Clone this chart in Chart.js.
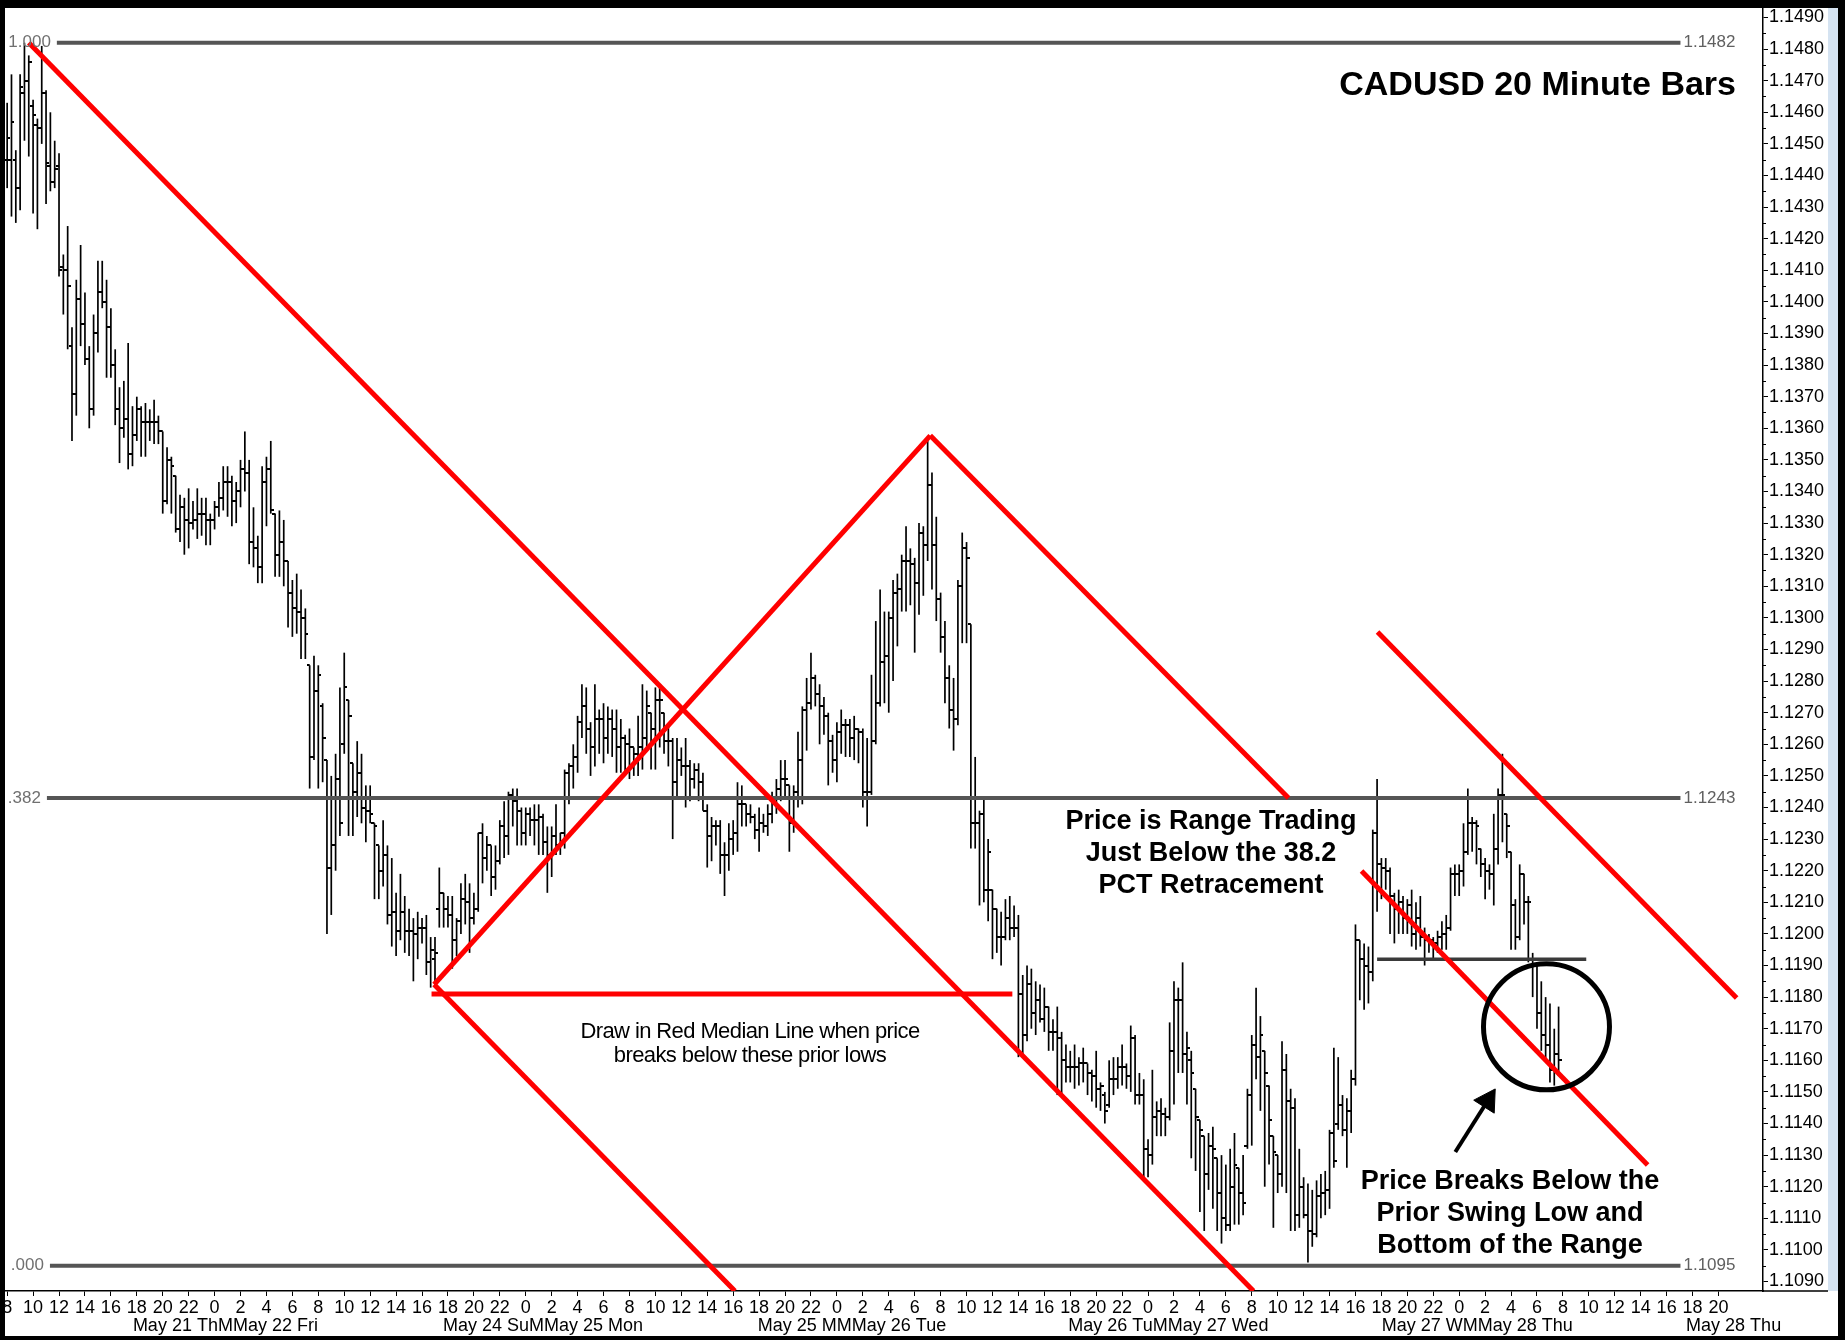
<!DOCTYPE html>
<html><head><meta charset="utf-8">
<script src="https://cdn.jsdelivr.net/npm/chart.js@4.4.0/dist/chart.umd.min.js"></script>
<style>html,body{margin:0;padding:0;background:#fff;}canvas{display:block;}</style>
</head><body>
<canvas id="c" width="1845" height="1340"></canvas>
<script>
// ---------- DATA (CADUSD 20-minute bars) ----------
const opens = [
1.1445,1.1445,1.1445,1.1436,1.1466,1.1470,1.1462,1.1456,1.1455,1.1466,
1.1443,1.1438,1.1443,1.1411,1.1410,1.1386,1.1371,1.1401,1.1393,1.1382,
1.1366,1.1390,1.1403,1.1400,1.1392,1.1380,1.1366,1.1360,1.1363,1.1352,
1.1358,1.1366,1.1362,1.1362,1.1362,1.1362,1.1359,1.1337,1.1350,1.1345,
1.1328,1.1335,1.1331,1.1330,1.1331,1.1333,1.1333,1.1331,1.1331,1.1335,
1.1338,1.1343,1.1343,1.1337,1.1340,1.1347,1.1346,1.1324,1.1322,1.1316,
1.1343,1.1347,1.1333,1.1320,1.1324,1.1318,1.1308,1.1303,1.1302,1.1300,
1.1285,1.1256,1.1277,1.1272,1.1255,1.1221,1.1228,1.1249,1.1260,1.1274,
1.1254,1.1245,1.1251,1.1240,1.1239,1.1235,1.1228,1.1220,1.1225,1.1206,
1.1207,1.1201,1.1207,1.1201,1.1201,1.1200,1.1202,1.1202,1.1191,1.1192,
1.1208,1.1213,1.1208,1.1206,1.1198,1.1204,1.1211,1.1210,1.1205,1.1208,
1.1232,1.1224,1.1228,1.1218,1.1223,1.1234,1.1231,1.1244,1.1242,1.1239,
1.1232,1.1238,1.1236,1.1236,1.1237,1.1229,1.1225,1.1231,1.1228,1.1232,
1.1251,1.1253,1.1256,1.1267,1.1272,1.1265,1.1259,1.1268,1.1268,1.1262,
1.1268,1.1265,1.1259,1.1262,1.1260,1.1259,1.1257,1.1259,1.1262,1.1270,
1.1265,1.1274,1.1270,1.1261,1.1261,1.1248,1.1255,1.1253,1.1253,1.1249,
1.1252,1.1248,1.1239,1.1231,1.1234,1.1234,1.1225,1.1225,1.1230,1.1232,
1.1241,1.1241,1.1238,1.1237,1.1233,1.1235,1.1234,1.1238,1.1243,1.1246,
1.1249,1.1247,1.1235,1.1245,1.1255,1.1271,1.1273,1.1281,1.1276,1.1272,
1.1269,1.1261,1.1255,1.1264,1.1266,1.1266,1.1262,1.1265,1.1264,1.1245,
1.1245,1.1261,1.1273,1.1286,1.1288,1.1300,1.1308,1.1309,1.1318,1.1318,
1.1317,1.1311,1.1327,1.1323,1.1342,1.1323,1.1306,1.1294,1.1281,1.1271,
1.1268,1.1310,1.1322,1.1298,1.1235,1.1235,1.1238,1.1214,1.1214,1.1208,
1.1199,1.1199,1.1205,1.1202,1.1202,1.1181,1.1168,1.1184,1.1175,1.1179,
1.1173,1.1177,1.1169,1.1169,1.1167,1.1160,1.1158,1.1158,1.1158,1.1159,
1.1159,1.1156,1.1155,1.1151,1.1149,1.1146,1.1154,1.1154,1.1158,1.1158,
1.1155,1.1167,1.1149,1.1149,1.1132,1.1130,1.1142,1.1144,1.1143,1.1142,
1.1163,1.1179,1.1179,1.1162,1.1160,1.1151,1.1141,1.1136,1.1124,1.1133,
1.1129,1.1118,1.1110,1.1108,1.1120,1.1126,1.1118,1.1133,1.1149,1.1165,
1.1161,1.1163,1.1152,1.1136,1.1130,1.1124,1.1157,1.1147,1.1145,1.1111,
1.1120,1.1111,1.1106,1.1105,1.1117,1.1118,1.1119,1.1137,1.1140,1.1146,
1.1138,1.1144,1.1154,1.1198,1.1192,1.1190,1.1188,1.1232,1.1222,1.1221,
1.1220,1.1212,1.1208,1.1210,1.1205,1.1209,1.1200,1.1205,1.1199,1.1198,
1.1198,1.1197,1.1199,1.1200,1.1202,1.1219,1.1219,1.1220,1.1226,1.1235,
1.1235,1.1227,1.1222,1.1220,1.1219,1.1227,1.1244,1.1238,1.1226,1.1209,
1.1199,1.1219,1.1210,1.1192,1.1190,1.1175,1.1168,1.1165,1.1157,1.1162];
const highs = [
1.1463,1.1472,1.1448,1.1472,1.1482,1.1478,1.1464,1.1458,1.1481,1.1467,
1.1460,1.1451,1.1447,1.1415,1.1424,1.1392,1.1407,1.1418,1.1403,1.1386,
1.1396,1.1413,1.1413,1.1407,1.1398,1.1385,1.1373,1.1375,1.1387,1.1367,
1.1370,1.1367,1.1368,1.1366,1.1369,1.1364,1.1359,1.1354,1.1351,1.1345,
1.1339,1.1338,1.1341,1.1337,1.1341,1.1338,1.1338,1.1333,1.1337,1.1343,
1.1348,1.1348,1.1345,1.1343,1.1350,1.1359,1.1350,1.1335,1.1326,1.1348,
1.1351,1.1356,1.1333,1.1334,1.1331,1.1318,1.1312,1.1314,1.1309,1.1303,
1.1285,1.1288,1.1285,1.1273,1.1255,1.1250,1.1257,1.1278,1.1289,1.1274,
1.1254,1.1261,1.1257,1.1247,1.1247,1.1235,1.1228,1.1236,1.1228,1.1224,
1.1213,1.1219,1.1212,1.1208,1.1205,1.1207,1.1205,1.1206,1.1199,1.1199,
1.1221,1.1213,1.1212,1.1212,1.1205,1.1216,1.1219,1.1216,1.1213,1.1232,
1.1235,1.1231,1.1228,1.1228,1.1236,1.1242,1.1245,1.1246,1.1246,1.1240,
1.1240,1.1240,1.1241,1.1241,1.1238,1.1234,1.1234,1.1241,1.1232,1.1252,
1.1254,1.1260,1.1269,1.1279,1.1278,1.1267,1.1279,1.1271,1.1273,1.1272,
1.1271,1.1271,1.1268,1.1263,1.1265,1.1259,1.1269,1.1279,1.1277,1.1270,
1.1278,1.1278,1.1270,1.1266,1.1262,1.1262,1.1259,1.1262,1.1255,1.1254,
1.1254,1.1251,1.1241,1.1237,1.1236,1.1236,1.1229,1.1235,1.1236,1.1248,
1.1247,1.1241,1.1241,1.1238,1.1240,1.1238,1.1241,1.1245,1.1249,1.1255,
1.1255,1.1247,1.1247,1.1264,1.1272,1.1281,1.1289,1.1282,1.1279,1.1275,
1.1270,1.1263,1.1267,1.1271,1.1268,1.1268,1.1269,1.1265,1.1265,1.1262,
1.1282,1.1299,1.1309,1.1302,1.1302,1.1312,1.1314,1.1320,1.1329,1.1322,
1.1319,1.1330,1.1329,1.1357,1.1346,1.1332,1.1308,1.1299,1.1285,1.1281,
1.1312,1.1327,1.1324,1.1298,1.1256,1.1239,1.1243,1.1230,1.1214,1.1208,
1.1207,1.1211,1.1212,1.1209,1.1206,1.1187,1.1190,1.1189,1.1185,1.1184,
1.1183,1.1177,1.1173,1.1177,1.1169,1.1165,1.1163,1.1165,1.1161,1.1164,
1.1159,1.1157,1.1163,1.1153,1.1150,1.1160,1.1161,1.1161,1.1165,1.1159,
1.1171,1.1168,1.1156,1.1154,1.1135,1.1157,1.1147,1.1148,1.1145,1.1172,
1.1185,1.1183,1.1191,1.1169,1.1163,1.1151,1.1141,1.1136,1.1137,1.1139,
1.1129,1.1130,1.1127,1.1132,1.1137,1.1126,1.1130,1.1151,1.1168,1.1183,
1.1174,1.1163,1.1152,1.1136,1.1130,1.1166,1.1162,1.1151,1.1148,1.1132,
1.1123,1.1121,1.1119,1.1122,1.1124,1.1125,1.1138,1.1164,1.1161,1.1149,
1.1148,1.1157,1.1203,1.1198,1.1197,1.1196,1.1233,1.1249,1.1224,1.1224,
1.1221,1.1213,1.1214,1.1212,1.1211,1.1214,1.1210,1.1212,1.1202,1.1200,
1.1199,1.1201,1.1204,1.1206,1.1221,1.1222,1.1222,1.1235,1.1246,1.1237,
1.1236,1.1227,1.1224,1.1222,1.1238,1.1246,1.1257,1.1238,1.1226,1.1211,
1.1222,1.1219,1.1212,1.1194,1.1190,1.1185,1.1180,1.1178,1.1170,1.1177];
const lows = [
1.1436,1.1427,1.1425,1.1429,1.1451,1.1446,1.1428,1.1423,1.1450,1.1431,
1.1435,1.1436,1.1408,1.1396,1.1385,1.1356,1.1364,1.1386,1.1380,1.1360,
1.1364,1.1384,1.1398,1.1376,1.1376,1.1361,1.1349,1.1357,1.1347,1.1348,
1.1356,1.1351,1.1351,1.1356,1.1355,1.1355,1.1333,1.1336,1.1333,1.1327,
1.1324,1.1320,1.1322,1.1328,1.1325,1.1326,1.1323,1.1323,1.1328,1.1332,
1.1334,1.1332,1.1329,1.1330,1.1335,1.1340,1.1317,1.1316,1.1311,1.1311,
1.1329,1.1333,1.1313,1.1313,1.1310,1.1297,1.1294,1.1295,1.1287,1.1287,
1.1246,1.1255,1.1246,1.1248,1.1200,1.1206,1.1220,1.1231,1.1257,1.1231,
1.1231,1.1237,1.1235,1.1229,1.1235,1.1211,1.1211,1.1215,1.1203,1.1196,
1.1193,1.1198,1.1194,1.1193,1.1185,1.1192,1.1197,1.1187,1.1183,1.1184,
1.1202,1.1202,1.1202,1.1189,1.1193,1.1200,1.1203,1.1194,1.1203,1.1207,
1.1216,1.1220,1.1212,1.1214,1.1222,1.1224,1.1225,1.1234,1.1228,1.1228,
1.1228,1.1231,1.1228,1.1225,1.1225,1.1213,1.1218,1.1225,1.1225,1.1227,
1.1241,1.1246,1.1251,1.1262,1.1257,1.1250,1.1253,1.1257,1.1254,1.1257,
1.1256,1.1251,1.1251,1.1251,1.1249,1.1250,1.1250,1.1252,1.1259,1.1252,
1.1252,1.1259,1.1257,1.1253,1.1230,1.1243,1.1250,1.1240,1.1242,1.1246,
1.1242,1.1239,1.1221,1.1223,1.1228,1.1219,1.1212,1.1220,1.1225,1.1226,
1.1234,1.1234,1.1235,1.1230,1.1226,1.1232,1.1231,1.1235,1.1238,1.1242,
1.1243,1.1226,1.1232,1.1240,1.1241,1.1258,1.1271,1.1272,1.1260,1.1263,
1.1247,1.1251,1.1248,1.1257,1.1256,1.1256,1.1255,1.1254,1.1240,1.1234,
1.1244,1.1260,1.1272,1.1273,1.1270,1.1280,1.1291,1.1302,1.1302,1.1304,
1.1289,1.1301,1.1307,1.1318,1.1309,1.1299,1.1289,1.1273,1.1265,1.1258,
1.1266,1.1292,1.1292,1.1227,1.1227,1.1209,1.1210,1.1204,1.1192,1.1194,
1.1190,1.1198,1.1198,1.1199,1.1161,1.1161,1.1166,1.1170,1.1168,1.1172,
1.1169,1.1163,1.1163,1.1149,1.1149,1.1153,1.1153,1.1151,1.1152,1.1153,
1.1149,1.1147,1.1145,1.1144,1.1140,1.1145,1.1149,1.1151,1.1152,1.1151,
1.1150,1.1146,1.1146,1.1123,1.1123,1.1127,1.1136,1.1136,1.1136,1.1141,
1.1146,1.1156,1.1156,1.1146,1.1129,1.1125,1.1112,1.1106,1.1119,1.1113,
1.1106,1.1102,1.1106,1.1106,1.1108,1.1108,1.1111,1.1132,1.1133,1.1154,
1.1144,1.1120,1.1127,1.1107,1.1118,1.1120,1.1118,1.1106,1.1106,1.1107,
1.1110,1.1096,1.1101,1.1104,1.1110,1.1111,1.1113,1.1126,1.1138,1.1136,
1.1126,1.1137,1.1152,1.1179,1.1176,1.1178,1.1185,1.1207,1.1211,1.1214,
1.1200,1.1197,1.1200,1.1200,1.1200,1.1196,1.1195,1.1196,1.1190,1.1194,
1.1192,1.1194,1.1195,1.1195,1.1201,1.1212,1.1212,1.1215,1.1225,1.1226,
1.1222,1.1218,1.1211,1.1214,1.1209,1.1222,1.1229,1.1224,1.1195,1.1195,
1.1198,1.1203,1.1191,1.1180,1.1170,1.1163,1.1160,1.1153,1.1152,1.1155];
const closes = [
1.1452,1.1457,1.1436,1.1468,1.1470,1.1476,1.1459,1.1455,1.1466,1.1444,
1.1438,1.1442,1.1410,1.1410,1.1405,1.1371,1.1401,1.1393,1.1382,1.1366,
1.1390,1.1403,1.1400,1.1392,1.1380,1.1366,1.1360,1.1363,1.1352,1.1358,
1.1366,1.1362,1.1362,1.1362,1.1362,1.1359,1.1337,1.1350,1.1348,1.1328,
1.1335,1.1331,1.1330,1.1331,1.1333,1.1333,1.1331,1.1331,1.1335,1.1338,
1.1343,1.1343,1.1337,1.1340,1.1347,1.1346,1.1324,1.1322,1.1316,1.1343,
1.1347,1.1334,1.1320,1.1324,1.1318,1.1308,1.1303,1.1302,1.1300,1.1295,
1.1256,1.1277,1.1282,1.1262,1.1221,1.1228,1.1249,1.1235,1.1278,1.1269,
1.1245,1.1251,1.1240,1.1239,1.1238,1.1234,1.1220,1.1225,1.1206,1.1207,
1.1201,1.1207,1.1201,1.1201,1.1200,1.1202,1.1202,1.1191,1.1195,1.1194,
1.1213,1.1208,1.1206,1.1198,1.1204,1.1211,1.1210,1.1205,1.1208,1.1232,
1.1224,1.1228,1.1218,1.1223,1.1234,1.1231,1.1244,1.1242,1.1239,1.1232,
1.1238,1.1236,1.1236,1.1237,1.1229,1.1225,1.1231,1.1228,1.1232,1.1251,
1.1253,1.1256,1.1267,1.1272,1.1265,1.1259,1.1268,1.1268,1.1262,1.1268,
1.1265,1.1259,1.1262,1.1260,1.1259,1.1257,1.1259,1.1262,1.1272,1.1265,
1.1274,1.1274,1.1261,1.1261,1.1248,1.1255,1.1253,1.1253,1.1249,1.1252,
1.1248,1.1239,1.1231,1.1234,1.1234,1.1225,1.1225,1.1230,1.1232,1.1241,
1.1241,1.1238,1.1237,1.1233,1.1235,1.1234,1.1238,1.1243,1.1246,1.1249,
1.1249,1.1235,1.1245,1.1255,1.1271,1.1273,1.1281,1.1276,1.1272,1.1269,
1.1261,1.1255,1.1264,1.1266,1.1266,1.1262,1.1265,1.1264,1.1245,1.1245,
1.1261,1.1273,1.1286,1.1288,1.1300,1.1308,1.1309,1.1318,1.1318,1.1317,
1.1311,1.1327,1.1323,1.1342,1.1323,1.1306,1.1294,1.1281,1.1271,1.1268,
1.1310,1.1322,1.1319,1.1235,1.1235,1.1238,1.1214,1.1226,1.1208,1.1199,
1.1199,1.1205,1.1202,1.1202,1.1181,1.1168,1.1184,1.1175,1.1179,1.1173,
1.1177,1.1169,1.1169,1.1167,1.1160,1.1158,1.1158,1.1158,1.1159,1.1159,
1.1156,1.1155,1.1151,1.1152,1.1144,1.1154,1.1154,1.1158,1.1158,1.1155,
1.1167,1.1149,1.1149,1.1132,1.1130,1.1142,1.1144,1.1143,1.1142,1.1163,
1.1179,1.1179,1.1162,1.1164,1.1156,1.1142,1.1138,1.1124,1.1133,1.1132,
1.1118,1.1110,1.1108,1.1120,1.1127,1.1118,1.1115,1.1149,1.1165,1.1161,
1.1168,1.1156,1.1141,1.1131,1.1124,1.1157,1.1147,1.1145,1.1111,1.1120,
1.1111,1.1106,1.1105,1.1117,1.1118,1.1119,1.1137,1.1128,1.1146,1.1138,
1.1144,1.1154,1.1198,1.1192,1.1190,1.1188,1.1232,1.1222,1.1221,1.1220,
1.1212,1.1208,1.1210,1.1205,1.1209,1.1200,1.1205,1.1199,1.1198,1.1198,
1.1197,1.1199,1.1200,1.1202,1.1219,1.1219,1.1220,1.1226,1.1235,1.1235,
1.1234,1.1222,1.1220,1.1219,1.1227,1.1244,1.1244,1.1234,1.1209,1.1199,
1.1219,1.1210,1.1210,1.1190,1.1175,1.1168,1.1165,1.1157,1.1162,1.1160];

// x tick labels: one every 2 trading hours (every 6 bars)
const hourLabels = ['8','10','12','14','16','18','20','22',
 '0','2','4','6','8','10','12','14','16','18','20','22',
 '0','2','4','6','8','10','12','14','16','18','20','22',
 '0','2','4','6','8','10','12','14','16','18','20','22',
 '0','2','4','6','8','10','12','14','16','18','20','22',
 '0','2','4','6','8','10','12','14','16','18','20'];
const dateLabels = ['May 21 ThMMay 22 Fri','May 24 SuMMay 25 Mon','May 25 MMMay 26 Tue',
 'May 26 TuMMay 27 Wed','May 27 WMMay 28 Thu','May 28 Thu'];
const dateLabelBars = [50.5, 124, 195.5, 268.7, 340.2, 399.5];

const yTickLabels = ['1.1090','1.1100','1.1110','1.1120','1.1130','1.1140','1.1150','1.1160','1.1170','1.1180',
 '1.1190','1.1200','1.1210','1.1220','1.1230','1.1240','1.1250','1.1260','1.1270','1.1280',
 '1.1290','1.1300','1.1310','1.1320','1.1330','1.1340','1.1350','1.1360','1.1370','1.1380',
 '1.1390','1.1400','1.1410','1.1420','1.1430','1.1440','1.1450','1.1460','1.1470','1.1480','1.1490'];

// Fibonacci retracement levels
const fibLevels = [1.1482, 1.1243, 1.1095];
const fibNames  = ['1.000', '.382', '.000'];
const fibStartBars = [11.5, 9.2, 9.9];
const fibEndBar = 387.2;

// Trend / median lines drawn on the chart (bar index, price)
const redSegments = [
 [[5.0, 1.1482], [288.4, 1.1087]],
 [[98.8, 1.1184], [168.4, 1.1087]],
 [[98.8, 1.1184], [213.6, 1.13577]],
 [[213.6, 1.13577], [296.5, 1.1243]],
 [[98.2, 1.1181], [232.6, 1.1181]],
 [[317.1, 1.12955], [400.2, 1.11797]],
 [[313.4, 1.12199], [379.6, 1.11269]]
];
const swingLowLine = [[317, 1.1192], [365.4, 1.1192]];
const circleCenter = [356.2, 1.11706];
const arrowTail = [335.1, 1.11310];
const arrowHead = [342.6, 1.11472];

// ---------- CHART ----------
Chart.defaults.font.family = '"Liberation Sans", Arial, sans-serif';
const FONT = '"Liberation Sans", Arial, sans-serif';

function tickImage(side) {
  const c = document.createElement('canvas');
  c.width = 6; c.height = 2;
  const g = c.getContext('2d');
  g.fillStyle = '#000';
  if (side < 0) g.fillRect(0, 0, 3, 2); else g.fillRect(3, 0, 3, 2);
  return c;
}
const openImg = tickImage(-1), closeImg = tickImage(1);

const rangeData = opens.map((o, i) => ({x: i, y: [Math.min(lows[i], o, closes[i]), Math.max(highs[i], o, closes[i])]}));
const openData = opens.map((o, i) => ({x: i, y: o}));
const closeData = closes.map((c, i) => ({x: i, y: c}));
const seg = s => s.map(p => ({x: p[0], y: p[1]}));

const datasets = [];
// circle & arrow (top)
datasets.push({type: 'scatter', data: [{x: circleCenter[0], y: circleCenter[1]}], pointRadius: 63,
  pointBorderWidth: 5, pointBorderColor: '#000', borderColor: '#000', pointBackgroundColor: 'rgba(0,0,0,0)',
  backgroundColor: 'rgba(0,0,0,0)', order: 1});
datasets.push({type: 'line', data: seg([arrowTail, arrowHead]), borderColor: '#000', borderWidth: 4,
  pointRadius: 0, fill: false, tension: 0, order: 1});
datasets.push({type: 'scatter', data: [{x: arrowHead[0], y: arrowHead[1]}], pointStyle: 'triangle',
  pointRadius: 14, pointRotation: 32.4, pointBackgroundColor: '#000', pointBorderColor: '#000',
  backgroundColor: '#000', borderColor: '#000', pointBorderWidth: 1, order: 1});
// red lines
redSegments.forEach(s => datasets.push({type: 'line', data: seg(s), borderColor: '#ff0000', borderWidth: 5,
  pointRadius: 0, fill: false, tension: 0, clip: 0, order: 2, borderCapStyle: 'butt'}));
// black swing low line
datasets.push({type: 'line', data: seg(swingLowLine), borderColor: '#3a3a3a', borderWidth: 3.5,
  pointRadius: 0, fill: false, tension: 0, order: 2});
// fib lines
fibLevels.forEach((lv, k) => datasets.push({type: 'line', data: [{x: fibStartBars[k], y: lv}, {x: fibEndBar, y: lv}],
  borderColor: '#555555', borderWidth: 4, pointRadius: 0, fill: false, tension: 0, order: 3}));
// OHLC bars
datasets.push({type: 'scatter', data: openData, pointStyle: openImg, pointRadius: 3, order: 4});
datasets.push({type: 'scatter', data: closeData, pointStyle: closeImg, pointRadius: 3, order: 4});
datasets.push({type: 'bar', data: rangeData, backgroundColor: '#000', borderWidth: 0, barThickness: 1.7,
  inflateAmount: 0, grouped: false, order: 5});

const decor = {
  id: 'decor',
  beforeDraw(chart) {
    const ctx = chart.ctx;
    ctx.save(); ctx.fillStyle = '#fff'; ctx.fillRect(0, 0, chart.width, chart.height); ctx.restore();
  },
  afterDraw(chart) {
    const ctx = chart.ctx, xs = chart.scales.x, ys = chart.scales.y, ca = chart.chartArea;
    ctx.save();
    // minor y ticks
    ctx.strokeStyle = '#000'; ctx.lineWidth = 1;
    for (let k = 0; k < yTickLabels.length - 1; k++) {
      const v = (parseFloat(yTickLabels[k]) + parseFloat(yTickLabels[k + 1])) / 2;
      const py = Math.round(ys.getPixelForValue(v)) + 0.5;
      ctx.beginPath(); ctx.moveTo(ca.right, py); ctx.lineTo(ca.right + 3, py); ctx.stroke();
    }
    // extend x axis line under y labels
    ctx.fillStyle = '#000';
    ctx.fillRect(ca.right, ca.bottom - 0.75, 1828 - ca.right, 1.5);
    // fib labels
    ctx.font = '17px ' + FONT; ctx.textBaseline = 'middle';
    fibLevels.forEach((lv, k) => {
      const py = ys.getPixelForValue(lv);
      ctx.fillStyle = '#707070'; ctx.textAlign = 'right';
      ctx.fillText(fibNames[k], xs.getPixelForValue(fibStartBars[k]) - 6, py);
      ctx.fillStyle = '#606060'; ctx.textAlign = 'left';
      ctx.fillText(lv.toFixed(4), xs.getPixelForValue(fibEndBar) + 3, py);
    });
    // date labels
    ctx.fillStyle = '#000'; ctx.font = '18px ' + FONT; ctx.textAlign = 'center'; ctx.textBaseline = 'alphabetic';
    dateLabels.forEach((t, k) => ctx.fillText(t, xs.getPixelForValue(dateLabelBars[k]), 1331));
    // annotations
    const block = (lines, cx, ys0, font, ls) => {
      ctx.font = font; ctx.textAlign = 'center';
      if ('letterSpacing' in ctx) ctx.letterSpacing = ls || '0px';
      lines.forEach((t, k) => ctx.fillText(t, cx, ys0[k]));
      if ('letterSpacing' in ctx) ctx.letterSpacing = '0px';
    };
    ctx.fillStyle = '#000';
    ctx.font = 'bold 34px ' + FONT; ctx.textAlign = 'right';
    ctx.fillText('CADUSD 20 Minute Bars', 1736, 95);
    block(['Price is Range Trading', 'Just Below the 38.2', 'PCT Retracement'], 1211, [829, 861, 893], 'bold 27px ' + FONT);
    block(['Price Breaks Below the', 'Prior Swing Low and', 'Bottom of the Range'], 1510, [1189, 1221, 1253], 'bold 27px ' + FONT);
    block(['Draw in Red Median Line when price', 'breaks below these prior lows'], 750, [1038, 1062], '22px ' + FONT, '-0.6px');
    // frame
    ctx.fillStyle = '#d5e3f1'; ctx.fillRect(1828, 8, 10, ca.bottom - 8);
    ctx.fillStyle = '#000';
    ctx.fillRect(0, 0, 1845, 8);
    ctx.fillRect(0, 0, 5, 1340);
    ctx.fillRect(1838, 0, 7, 1340);
    ctx.fillRect(0, 1336, 1845, 4);
    ctx.restore();
  }
};

new Chart(document.getElementById('c'), {
  type: 'bar',
  data: {datasets},
  options: {
    responsive: false, animation: false, devicePixelRatio: 1, events: [],
    layout: {autoPadding: false, padding: {top: 8, left: 5, right: 0, bottom: 0}},
    plugins: {legend: {display: false}, tooltip: {enabled: false}, title: {display: false}},
    scales: {
      x: {type: 'linear', position: 'bottom', min: -0.5, max: 406.3, offset: false,
        grid: {display: true, drawOnChartArea: false, drawTicks: true, tickLength: 5, color: '#000', lineWidth: 1, offset: false},
        border: {display: true, color: '#000', width: 1.5},
        ticks: {autoSkip: false, maxRotation: 0, minRotation: 0, color: '#000', font: {size: 18}, padding: 1,
          callback: (v, i) => hourLabels[i]},
        afterBuildTicks: s => { s.ticks = hourLabels.map((_, k) => ({value: k * 6})); },
        afterFit: s => { s.height = 49; s.paddingLeft = 0; s.paddingRight = 0; }
      },
      y: {type: 'linear', position: 'right', min: 1.1087, max: 1.1493,
        grid: {display: true, drawOnChartArea: false, drawTicks: true, tickLength: 5, color: '#000', lineWidth: 1},
        border: {display: true, color: '#000', width: 1.5},
        ticks: {autoSkip: false, color: '#000', font: {size: 18}, padding: 1,
          callback: (v, i) => yTickLabels[i]},
        afterBuildTicks: s => { s.ticks = yTickLabels.map(t => ({value: parseFloat(t)})); },
        afterFit: s => { s.width = 82; s.paddingTop = 0; s.paddingBottom = 0; }
      }
    }
  },
  plugins: [decor]
});
</script>
</body></html>
